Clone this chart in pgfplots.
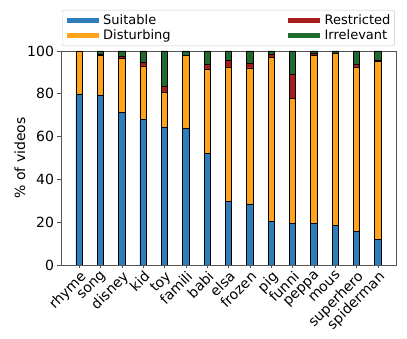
\documentclass[border=0pt]{standalone}
\usepackage{pgfplots}
\usepackage{pgfplotstable}
\pgfplotsset{compat=1.18}
\usepackage{fontspec}
\setmainfont{DejaVu Sans}

\definecolor{suit}{HTML}{2E7EBB}
\definecolor{dist}{HTML}{FFA31A}
\definecolor{rest}{HTML}{A91C1C}
\definecolor{irr}{HTML}{1E6B2C}
\definecolor{spine}{HTML}{555555}

% x  suitable disturbing restricted irrelevant
\pgfplotstableread{
x  suit dist rest irr
0  80.0 20.0 0.0 0.0
1  79.5 18.5 0.3 1.7
2  71.2 25.4 0.9 2.5
3  68.0 25.1 1.6 5.3
4  64.5 16.0 2.8 16.7
5  64.0 33.8 0.3 1.9
6  52.2 39.2 2.5 6.1
7  29.8 62.6 3.3 4.3
8  28.6 63.5 2.4 5.5
9  20.4 76.7 1.2 1.7
10 19.3 58.6 11.2 10.9
11 19.3 78.7 0.9 1.1
12 18.4 80.5 0.2 0.9
13 15.7 76.8 1.3 6.2
14 12.1 83.1 0.7 4.1
}\videos

\begin{document}
\begin{tikzpicture}
\useasboundingbox (-61pt,-74pt) rectangle (346pt,265pt);
\begin{axis}[
  at={(0,0)}, anchor=south west,
  scale only axis, width=335pt, height=214pt,
  ybar stacked, bar width=6.3pt,
  xmin=-0.85, xmax=14.85, ymin=0, ymax=100,
  xtick=data,
  xticklabels={rhyme,song,disney,kid,toy,famili,babi,elsa,frozen,pig,funni,peppa,mous,superhero,spiderman},
  xticklabel style={rotate=45, anchor=north east, inner sep=1pt, font=\fontsize{14}{16}\selectfont},
  ytick={0,20,40,60,80,100},
  yticklabel style={font=\fontsize{14}{16}\selectfont},
  /pgf/number format/assume math mode=true,
  ylabel={\% of videos},
  ylabel style={font=\fontsize{14}{16}\selectfont, yshift=-5pt},
  axis line style={spine},
  tick style={spine, line width=0.6pt},
  tick align=outside, major tick length=3.5pt,
  xtick pos=bottom, ytick pos=left,
  legend columns=2,
  legend style={at={(0.003,1.023)}, anchor=south west, draw=black!22, rounded corners=1.5pt,
    font=\fontsize{13}{15}\selectfont, inner xsep=2pt, inner ysep=2.5pt,
    /tikz/every even column/.append style={column sep=113pt}},
  legend cell align=left,
  legend image code/.code={\draw[line width=5pt] (0pt,0pt) -- (32pt,0pt);},
]
\addplot[fill=suit, draw=black, line width=0.5pt, forget plot] table[x=x, y=suit] {\videos};
\addplot[fill=dist, draw=black, line width=0.5pt, forget plot] table[x=x, y=dist] {\videos};
\addplot[fill=rest, draw=black, line width=0.5pt, forget plot] table[x=x, y=rest] {\videos};
\addplot[fill=irr, draw=black, line width=0.5pt, forget plot] table[x=x, y=irr] {\videos};
\addlegendimage{suit}
\addlegendentry{Suitable}
\addlegendimage{rest}
\addlegendentry{Restricted}
\addlegendimage{dist}
\addlegendentry{Disturbing}
\addlegendimage{irr}
\addlegendentry{Irrelevant}
\end{axis}
\end{tikzpicture}
\end{document}
